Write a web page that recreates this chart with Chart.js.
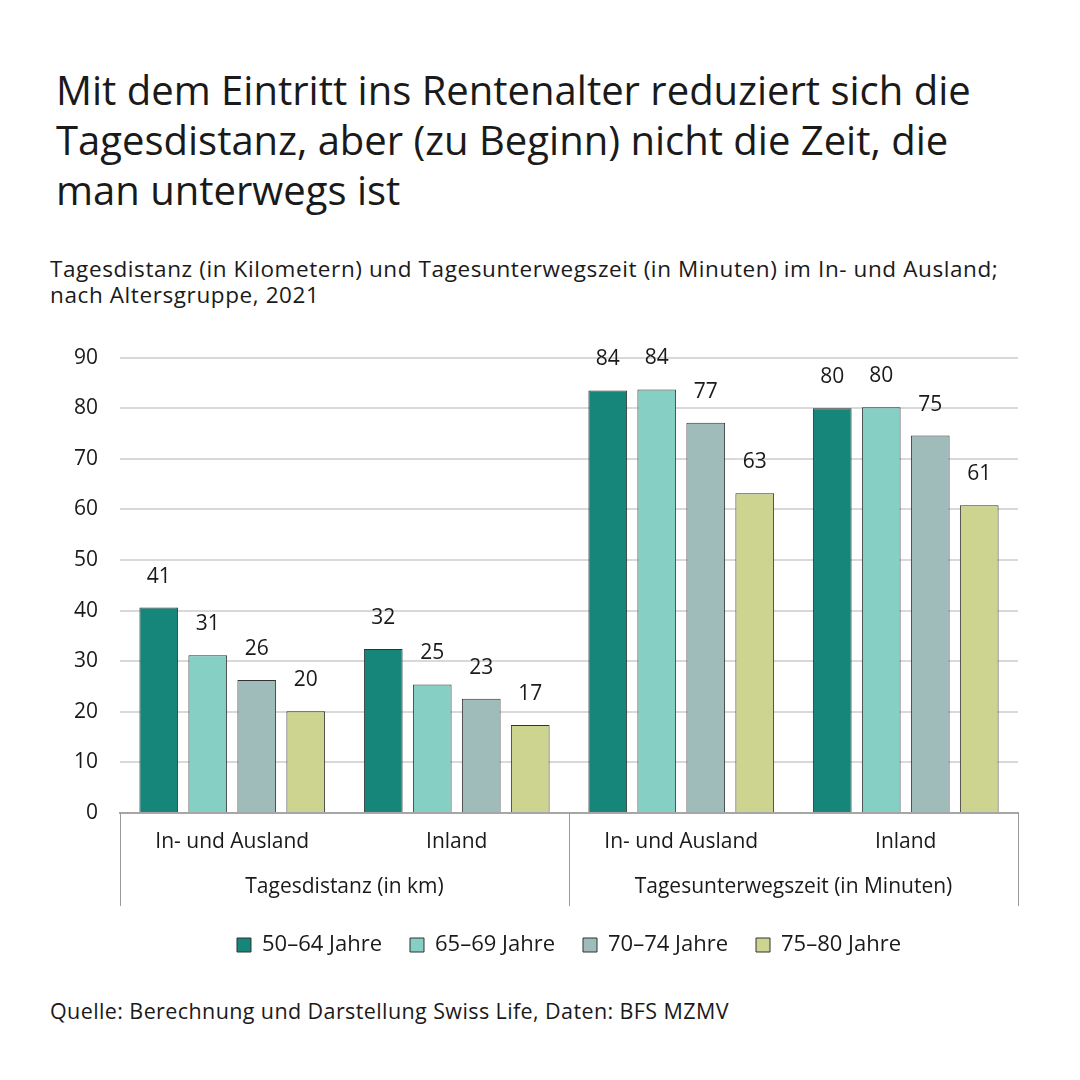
<!DOCTYPE html>
<html>
<head>
<meta charset="utf-8">
<script src="https://cdn.jsdelivr.net/npm/chart.js@4"></script>
<style>
  body { margin: 0; background: #fff; font-family: "Open Sans", sans-serif; color: #1a1a1a; }
  #page { position: relative; width: 1080px; height: 1080px; overflow: hidden; }
  #title { position: absolute; left: 56px; top: 65px; font-size: 40px; line-height: 50px; }
  #sub { position: absolute; left: 50px; top: 256px; font-size: 22.5px; line-height: 26px; letter-spacing: 0.6px; }
  #box { position: absolute; left: 0; top: 323px; width: 1080px; height: 663px; }
  #src { position: absolute; left: 50px; top: 996px; font-size: 21.5px; letter-spacing: 0.4px; }
</style>
</head>
<body>
<div id="page">
  <div id="title">Mit dem Eintritt ins Rentenalter reduziert sich die<br>Tagesdistanz, aber (zu Beginn) nicht die Zeit, die<br>man unterwegs ist</div>
  <div id="sub">Tagesdistanz (in Kilometern) und Tagesunterwegszeit (in Minuten) im In- und Ausland;<br>nach Altersgruppe, 2021</div>
  <div id="box"><canvas id="chart"></canvas></div>
  <div id="src">Quelle: Berechnung und Darstellung Swiss Life, Daten: BFS MZMV</div>
</div>
<script>
// categories and groups
var categories = ['In- und Ausland', 'Inland', 'In- und Ausland', 'Inland'];
var groups = ['Tagesdistanz (in km)', 'Tagesunterwegszeit (in Minuten)'];
var seriesNames = ['50–64 Jahre', '65–69 Jahre', '70–74 Jahre', '75–80 Jahre'];

// values per age group (km, km, minutes, minutes)
var age5064 = [40.6, 32.4, 83.5, 80.0];
var age6569 = [31.2, 25.4, 83.7, 80.2];
var age7074 = [26.3, 22.6, 77.1, 74.6];
var age7580 = [20.1, 17.4, 63.2, 60.8];

var yTicks = [0, 10, 20, 30, 40, 50, 60, 70, 80, 90];

var colors = ['#16857a', '#85cfc4', '#9fbcbb', '#ccd490'];
var allSeries = [age5064, age6569, age7074, age7580];

var c = document.getElementById('chart');
var fontFam = '"Open Sans", sans-serif';

var valueLabels = {
  id: 'valueLabels',
  afterDatasetsDraw: function(chart) {
    var ctx = chart.ctx;
    ctx.save();
    ctx.font = '21px ' + fontFam;
    ctx.fillStyle = '#1a1a1a';
    ctx.textAlign = 'center';
    ctx.textBaseline = 'middle';
    chart.data.datasets.forEach(function(ds, i) {
      chart.getDatasetMeta(i).data.forEach(function(el, j) {
        ctx.fillText(Math.round(ds.data[j]), el.x, el.y - 31);
      });
    });
    ctx.restore();
  }
};

var groupAxis = {
  id: 'groupAxis',
  afterDraw: function(chart) {
    var ctx = chart.ctx;
    var xs = chart.scales.x;
    var a = chart.chartArea;
    var mid = (xs.getPixelForValue(1) + xs.getPixelForValue(2)) / 2;
    var lines = [a.left, mid, a.right];
    ctx.save();
    ctx.strokeStyle = '#9a9a9a';
    ctx.lineWidth = 1;
    lines.forEach(function(x) {
      ctx.beginPath();
      ctx.moveTo(Math.round(x) + 0.5, a.bottom);
      ctx.lineTo(Math.round(x) + 0.5, a.bottom + 93);
      ctx.stroke();
    });
    ctx.font = '21px ' + fontFam;
    ctx.fillStyle = '#1a1a1a';
    ctx.textAlign = 'center';
    ctx.textBaseline = 'middle';
    ctx.fillText(groups[0], (a.left + mid) / 2, a.bottom + 74);
    ctx.fillText(groups[1], (mid + a.right) / 2, a.bottom + 74);
    ctx.restore();
  }
};

var data = {
  labels: categories,
  datasets: allSeries.map(function(s, i) {
    return {
      label: seriesNames[i],
      data: s,
      backgroundColor: colors[i],
      borderColor: '#333',
      borderWidth: 1,
      barPercentage: 0.79,
      categoryPercentage: 0.873
    };
  })
};

var options = {
  responsive: true,
  maintainAspectRatio: false,
  animation: false,
  layout: { padding: { top: 13, right: 62, left: 0, bottom: 20 } },
  scales: {
    x: {
      grid: { display: false },
      border: { color: '#a6a6a6', width: 2 },
      ticks: { color: '#1a1a1a', font: { size: 21, family: fontFam }, padding: 8 },
      afterFit: function(s) { s.height = 93; }
    },
    y: {
      min: 0,
      max: 90,
      afterBuildTicks: function(s) { s.ticks = yTicks.map(function(v) { return { value: v }; }); },
      grid: { color: '#d9d9d9', lineWidth: 2, drawTicks: false },
      border: { display: false },
      ticks: { color: '#1a1a1a', font: { size: 21, family: fontFam }, padding: 22 },
      afterFit: function(s) { s.width = 120; }
    }
  },
  plugins: {
    legend: {
      position: 'bottom',
      fullSize: false,
      labels: {
        boxWidth: 14,
        boxHeight: 14,
        padding: 28,
        color: '#1a1a1a',
        font: { size: 22, family: fontFam }
      }
    },
    tooltip: { enabled: false }
  }
};

var chart = new Chart(c, { type: 'bar', data: data, options: options, plugins: [valueLabels, groupAxis] });
</script>
</body>
</html>
